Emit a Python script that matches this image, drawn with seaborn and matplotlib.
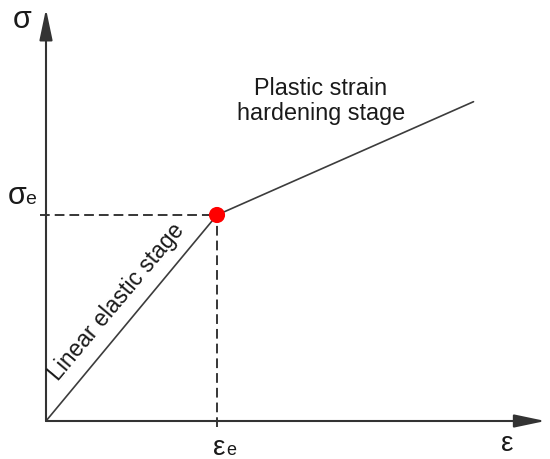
import matplotlib
matplotlib.use("Agg")
import matplotlib.pyplot as plt
import seaborn as sns
import pandas as pd

# bilinear stress-strain model (normalised: yield point = 1, 1)
strain = [0.0, 1.0, 2.50]
stress = [0.0, 1.0, 1.55]
yield_strain = 1.0
yield_stress = 1.0
axis_end_x = 2.92
axis_end_y = 2.0

stage_labels = ["Linear elastic stage", "Plastic strain\nhardening stage"]

sns.set_style("white")
plt.rcParams['font.family'] = ['Liberation Sans', 'DejaVu Sans']
plt.rcParams['lines.scale_dashes'] = False

fig = plt.figure(figsize=(5.5, 4.6), dpi=100)
ax = fig.add_axes([0, 0, 1, 1])

# pixel layout: origin at (46, 422), 171 px per unit in x, 206 px per unit in y
ox, oy, sx, sy = 46, 422, 171, 206
ax.set_xlim(-ox / sx, (550 - ox) / sx)
ax.set_ylim(-(460 - oy) / sy, oy / sy)
ax.axis("off")


def px(x, y):
    return (x - ox) / sx, (oy - y) / sy


df = pd.DataFrame({"strain": strain, "stress": stress})
sns.lineplot(data=df, x="strain", y="stress", color="#3c3c3c", linewidth=1.2, ax=ax)

# axes with arrows
arrow = dict(arrowstyle="-|>,head_length=1.9,head_width=0.4", color="#333333",
             linewidth=1.5, shrinkA=0, shrinkB=0, mutation_scale=10)
ax.annotate("", xy=(axis_end_x, 0), xytext=(0, 0), arrowprops=arrow)
ax.annotate("", xy=(0, axis_end_y), xytext=(0, 0), arrowprops=arrow)

# dashed guide lines to the yield point
dash = (0, (7, 3.6))
ax.plot([-0.035, yield_strain], [yield_stress, yield_stress], color="black",
        linewidth=1.1, linestyle=dash)
ax.plot([yield_strain, yield_strain], [-0.03, yield_stress], color="black",
        linewidth=1.1, linestyle=dash)

sns.scatterplot(x=[yield_strain], y=[yield_stress], color="#ff0000", s=135,
                edgecolor="none", zorder=5, ax=ax)

# axis symbols
txt = "#1a1a1a"
ax.text(*px(22, 28), "σ", fontsize=22, ha="center", va="baseline", color=txt)
ax.text(*px(17, 204), "σ", fontsize=22, ha="center", va="baseline", color=txt)
ax.text(*px(31, 204), "e", fontsize=14, ha="center", va="baseline", color=txt)
ax.text(*px(219, 455), "ε", fontsize=20, ha="center", va="baseline", color=txt)
ax.text(*px(231, 455), "e", fontsize=13, ha="center", va="baseline", color=txt)
ax.text(*px(507, 451), "ε", fontsize=20, ha="center", va="baseline", color=txt)

# stage labels
ax.text(*px(117, 302), stage_labels[0], fontsize=16.5, rotation=50,
        rotation_mode="anchor", ha="center", va="center", color=txt)
ax.text(*px(321, 101), stage_labels[1], fontsize=16.8, ha="center", va="center",
        linespacing=1.12, color=txt)

fig.savefig("out.png", dpi=100)
